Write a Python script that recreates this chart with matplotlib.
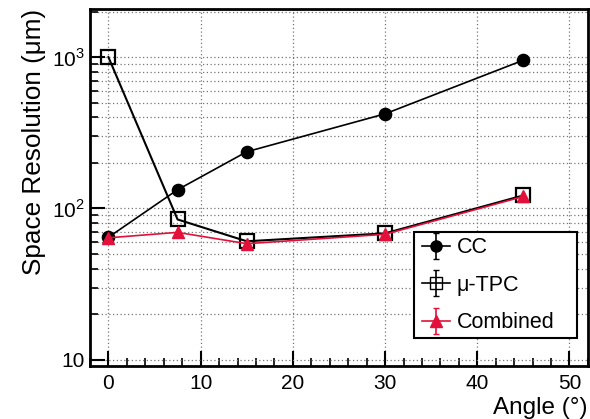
import numpy as np
import matplotlib
matplotlib.use("Agg")
import matplotlib.pyplot as plt
from matplotlib.patches import Rectangle
from matplotlib.legend_handler import HandlerErrorbar
from matplotlib.container import ErrorbarContainer
from matplotlib.ticker import FixedLocator, FixedFormatter, LogLocator, NullFormatter, MultipleLocator

angles = [0, 7.5, 15, 30, 45]
cc = [64.5, 133, 237, 422, 955]
utpc = [1000, 84.6, 60.7, 68.5, 122]
combined = [64, 69.5, 58.5, 67.5, 120]
y_ticks = [10, 100, 1000]
y_tick_labels = ['10', '10$^2$', '10$^3$']
series_labels = ['CC', 'μ-TPC', 'Combined']

plt.rcParams['font.family'] = ['Liberation Sans', 'DejaVu Sans']
plt.rcParams['mathtext.fontset'] = 'custom'
plt.rcParams['mathtext.rm'] = 'Liberation Sans'
red = '#e2103a'

fig = plt.figure(figsize=(5.9, 4.19), dpi=100)
ax = fig.add_axes([0.1525, 0.1265, 0.8440, 0.852])

ax.plot(angles, cc, color='black', lw=1.2, marker='o', ms=8.8, mfc='black', mec='black', zorder=3)
ax.plot(angles, utpc, color='black', lw=1.5, marker='s', ms=9.5, mfc='none', mec='black', mew=1.6, zorder=4)
ax.plot(angles, combined, color=red, lw=1.2, marker='^', ms=8.5, mfc=red, mec=red, zorder=5)

ax.set_yscale('log')
ax.set_xlim(-2, 52)
ax.set_ylim(9.1, 2080)

ax.yaxis.set_major_locator(FixedLocator(y_ticks))
ax.yaxis.set_major_formatter(FixedFormatter(y_tick_labels))
ax.yaxis.set_minor_locator(LogLocator(base=10, subs=np.arange(2, 10)))
ax.yaxis.set_minor_formatter(NullFormatter())
ax.xaxis.set_major_locator(MultipleLocator(10))
ax.xaxis.set_minor_locator(MultipleLocator(2))

ax.tick_params(which='both', direction='in', labelsize=15, color='black')
ax.tick_params(which='major', length=11, width=1.5)
ax.tick_params(which='minor', length=5.5, width=1.2)
ax.tick_params(axis='x', pad=6)
ax.tick_params(axis='y', pad=4)

ax.grid(True, which='major', axis='x', ls=(0, (1, 2)), color='#777777', lw=0.9)
ax.grid(True, which='both', axis='y', ls=(0, (1, 2)), color='#777777', lw=0.9)
ax.set_axisbelow(True)

for s in ax.spines.values():
    s.set_linewidth(2)

ax.set_ylabel('Space Resolution (μm)', fontsize=18.8, loc='top', labelpad=4)
ax.set_xlabel('Angle (°)', fontsize=17.5, loc='right', labelpad=3)

# legend frame
frame = Rectangle((0.651, 0.078), 0.327, 0.297, transform=ax.transAxes,
                  facecolor='white', edgecolor='black', lw=1.5, zorder=6)
ax.add_patch(frame)

# legend handles
h1 = ax.errorbar([np.nan], [np.nan], yerr=[1], color='black', marker='o', ms=8, capsize=2.3, lw=1.2, elinewidth=1.2)
h2 = ax.errorbar([np.nan], [np.nan], yerr=[1], color='black', marker='s', ms=8, mfc='none', capsize=2.3, lw=1.2, elinewidth=1.2)
h3 = ax.errorbar([np.nan], [np.nan], yerr=[1], color=red, marker='^', ms=8.5, capsize=2.3, lw=1.2, elinewidth=1.2)
leg = ax.legend([h1, h2, h3], series_labels, loc='upper left',
                bbox_to_anchor=(0.667, 0.361), borderaxespad=0, fontsize=15.5, frameon=False,
                handlelength=1.3, handletextpad=0.3, borderpad=0, labelspacing=0.77,
                handler_map={ErrorbarContainer: HandlerErrorbar(yerr_size=0.6)})
leg.set_zorder(7)

fig.savefig('out.png', dpi=100)
